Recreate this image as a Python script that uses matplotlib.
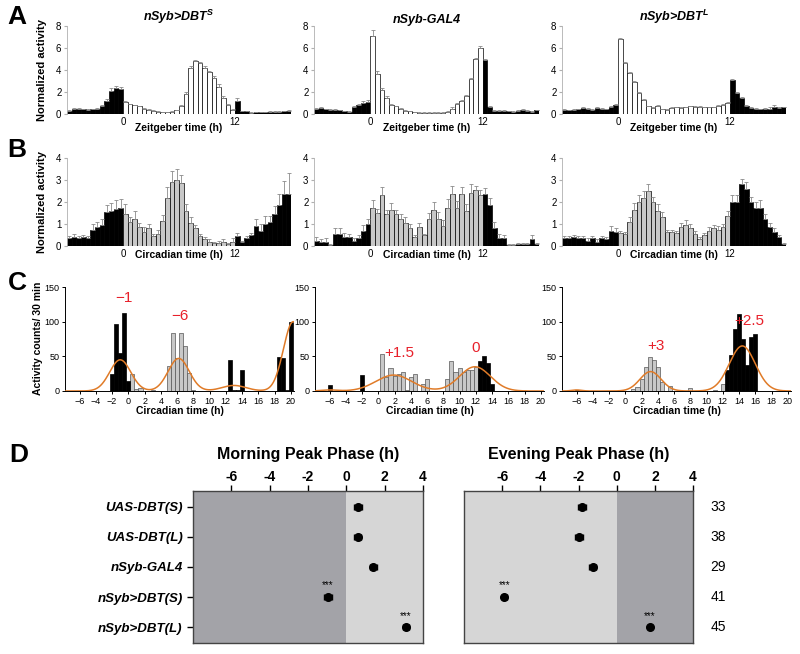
import numpy as np
import matplotlib.pyplot as plt

plt.rcParams['font.family'] = ['Liberation Sans', 'DejaVu Sans']
plt.rcParams['mathtext.fontset'] = 'custom'
plt.rcParams['mathtext.it'] = 'Liberation Sans:italic:bold'
plt.rcParams['mathtext.rm'] = 'Liberation Sans:bold'
plt.rcParams['axes.unicode_minus'] = False

W, H = 800, 654

# half-hour bins, start of each bin (h)
bins = np.arange(-6, 18, 0.5)

titles = ['nSyb>DBT$^S$', 'nSyb-GAL4', 'nSyb>DBT$^L$']

# ---- panel A: LD activity (normalized) ----
ld_S = [0.3, 0.45, 0.5, 0.45, 0.4, 0.45, 0.5, 0.7, 1.2, 2.05, 2.4, 2.3,
        1.1, 0.9, 0.8, 0.7, 0.5, 0.4, 0.3, 0.2, 0.15, 0.15, 0.2, 0.35,
        0.7, 1.8, 4.2, 4.8, 4.6, 4.2, 3.8, 3.3, 2.5, 1.5, 0.8, 0.4,
        1.2, 0.25, 0.25, 0.1, 0.15, 0.15, 0.15, 0.2, 0.2, 0.2, 0.25, 0.3]
ld_S_err = [0.05, 0.1, 0.05, 0.05, 0.05, 0.05, 0.05, 0.1, 0.15, 0.3, 0.15, 0.2,
            0.1, 0.05, 0.05, 0.05, 0.05, 0.05, 0.05, 0.05, 0.05, 0.05, 0.05, 0.05,
            0.1, 0.2, 0.15, 0.15, 0.1, 0.15, 0.15, 0.2, 0.2, 0.15, 0.1, 0.05,
            0.3, 0.05, 0.05, 0.05, 0.05, 0.05, 0.05, 0.05, 0.05, 0.05, 0.05, 0.05]
ld_G = [0.5, 0.55, 0.45, 0.4, 0.4, 0.35, 0.25, 0.2, 0.6, 0.85, 1.0, 1.1,
        7.1, 3.6, 2.15, 1.5, 0.8, 0.7, 0.5, 0.3, 0.25, 0.15, 0.1, 0.1,
        0.1, 0.1, 0.1, 0.1, 0.2, 0.5, 0.9, 1.15, 1.6, 3.2, 5.0, 6.0,
        4.9, 0.6, 0.3, 0.3, 0.3, 0.25, 0.2, 0.3, 0.4, 0.3, 0.2, 0.35]
ld_G_err = [0.05, 0.05, 0.05, 0.05, 0.05, 0.05, 0.05, 0.05, 0.1, 0.1, 0.15, 0.15,
            0.5, 0.35, 0.2, 0.1, 0.1, 0.05, 0.05, 0.05, 0.05, 0.05, 0.05, 0.05,
            0.05, 0.05, 0.05, 0.05, 0.05, 0.1, 0.1, 0.1, 0.1, 0.1, 0.1, 0.15,
            0.1, 0.1, 0.05, 0.05, 0.05, 0.05, 0.05, 0.05, 0.1, 0.05, 0.05, 0.05]
ld_L = [0.4, 0.35, 0.4, 0.45, 0.55, 0.5, 0.4, 0.55, 0.5, 0.45, 0.65, 0.8,
        6.8, 4.6, 3.7, 2.9, 1.9, 1.3, 0.7, 0.55, 0.7, 0.45, 0.4, 0.55,
        0.6, 0.55, 0.6, 0.7, 0.65, 0.65, 0.6, 0.6, 0.6, 0.7, 0.8, 1.0,
        3.1, 1.9, 1.45, 0.75, 0.55, 0.5, 0.45, 0.5, 0.5, 0.6, 0.55, 0.6]
ld_L_err = [0.1, 0.05, 0.05, 0.05, 0.1, 0.05, 0.05, 0.05, 0.05, 0.05, 0.1, 0.1,
            0.15, 0.15, 0.1, 0.1, 0.1, 0.1, 0.05, 0.05, 0.1, 0.05, 0.05, 0.05,
            0.05, 0.05, 0.05, 0.05, 0.05, 0.05, 0.05, 0.05, 0.05, 0.1, 0.1, 0.1,
            0.1, 0.1, 0.1, 0.05, 0.05, 0.05, 0.05, 0.05, 0.1, 0.2, 0.05, 0.05]

# ---- panel B: DD activity (normalized) ----
dd_S = [0.35, 0.4, 0.35, 0.4, 0.35, 0.75, 0.85, 0.95, 1.55, 1.6, 1.7, 1.75,
        1.45, 1.1, 1.25, 0.85, 0.65, 0.8, 0.45, 0.55, 1.15, 2.2, 2.9, 3.0,
        2.85, 1.6, 1.05, 0.8, 0.45, 0.3, 0.2, 0.15, 0.15, 0.2, 0.1, 0.2,
        0.45, 0.2, 0.35, 0.5, 0.9, 0.7, 1.0, 1.1, 1.45, 1.85, 2.35, 2.35]
dd_S_err = [0.1, 0.15, 0.1, 0.1, 0.1, 0.25, 0.25, 0.3, 0.3, 0.35, 0.4, 0.4,
            0.45, 0.2, 0.35, 0.2, 0.2, 0.2, 0.1, 0.2, 0.25, 0.5, 0.5, 0.5,
            0.4, 0.3, 0.25, 0.15, 0.1, 0.1, 0.1, 0.05, 0.1, 0.1, 0.05, 0.15,
            0.15, 0.05, 0.1, 0.1, 0.35, 0.3, 0.35, 0.25, 0.35, 0.5, 0.6, 0.95]
dd_G = [0.25, 0.2, 0.2, 0.05, 0.55, 0.55, 0.4, 0.4, 0.25, 0.35, 0.7, 1.0,
        1.75, 1.5, 2.3, 1.45, 1.65, 1.45, 1.25, 1.05, 0.8, 0.4, 0.85, 0.5,
        1.25, 1.65, 1.25, 0.9, 1.75, 2.35, 1.75, 2.35, 1.6, 2.4, 2.55, 2.3,
        2.35, 1.85, 0.8, 0.35, 0.35, 0.05, 0.05, 0.1, 0.1, 0.1, 0.3, 0.1]
dd_G_err = [0.15, 0.1, 0.15, 0.02, 0.25, 0.25, 0.2, 0.15, 0.1, 0.15, 0.25, 0.25,
            0.35, 0.2, 0.4, 0.2, 0.3, 0.2, 0.2, 0.25, 0.2, 0.1, 0.2, 0.05,
            0.25, 0.35, 0.3, 0.3, 0.4, 0.4, 0.3, 0.35, 0.3, 0.4, 0.2, 0.25,
            0.3, 0.35, 0.3, 0.2, 0.15, 0.03, 0.03, 0.05, 0.05, 0.05, 0.2, 0.05]
dd_L = [0.35, 0.35, 0.4, 0.35, 0.35, 0.25, 0.35, 0.2, 0.35, 0.3, 0.7, 0.65,
        0.6, 0.55, 1.1, 1.65, 2.0, 2.2, 2.5, 2.0, 1.6, 1.3, 0.65, 0.65,
        0.6, 0.85, 0.95, 0.8, 0.55, 0.3, 0.5, 0.7, 0.8, 0.75, 0.85, 1.35,
        2.0, 2.0, 2.8, 2.6, 2.0, 1.75, 1.75, 1.25, 0.85, 0.65, 0.4, 0.1]
dd_L_err = [0.1, 0.1, 0.1, 0.1, 0.1, 0.1, 0.1, 0.1, 0.1, 0.1, 0.2, 0.15,
            0.1, 0.1, 0.2, 0.3, 0.3, 0.3, 0.3, 0.25, 0.3, 0.25, 0.1, 0.1,
            0.1, 0.2, 0.25, 0.2, 0.15, 0.1, 0.1, 0.15, 0.15, 0.15, 0.15, 0.25,
            0.3, 0.3, 0.25, 0.3, 0.25, 0.25, 0.35, 0.2, 0.2, 0.15, 0.1, 0.05]

# ---- panel C: single-fly histograms (counts / 30 min) ----
c_S_gray_t = [0.5, 1, 1.5, 3, 5, 5.5, 6, 6.5, 7, 7.5, 8]
c_S_gray_n = [25, 3, 5, 1, 36, 84, 47, 84, 65, 26, 1]
c_S_black_t = [-2, -1.5, -1, -0.5, 0, 12.5, 13, 13.5, 14, 18.5, 19, 19.5, 20]
c_S_black_n = [25, 97, 55, 113, 15, 45, 2, 2, 31, 49, 47, 2, 100]
c_G_gray_t = [0.5, 1, 1.5, 2, 2.5, 3, 3.5, 4, 4.5, 5.5, 6,
              8.5, 9, 9.5, 10, 10.5, 11, 11.5, 12]
c_G_gray_n = [53, 20, 33, 22, 24, 27, 2, 20, 24, 10, 17,
              18, 43, 27, 33, 28, 31, 30, 35]
c_G_black_t = [-6, -2, 12.5, 13, 13.5, 14]
c_G_black_n = [8, 23, 43, 51, 40, 10]
c_L_gray_t = [1, 1.5, 2, 2.5, 3, 3.5, 4, 4.5, 5.5, 8, 9.5, 11, 12]
c_L_gray_n = [3, 6, 17, 35, 49, 45, 35, 13, 7, 4, 2, 2, 10]
c_L_black_t = [-6, 12.5, 13, 13.5, 14, 14.5, 15, 15.5, 16]
c_L_black_n = [2, 30, 52, 90, 111, 75, 37, 78, 82]

# gaussian fit parameters (amplitude, centre, sigma)
fit_S = [(45, -1.0, 1.3), (47, 6.2, 1.3), (8, 13.0, 1.5), (100, 20.3, 1.2)]
fit_G = [(1.5, -6.0, 1.0), (23, 1.9, 2.2), (35, 11.9, 1.9)]
fit_L = [(1.5, -6.0, 0.6), (28, 3.1, 1.3), (65, 14.4, 1.6)]

# phase labels (text, t, count)
lab_S = [('\u22121', -0.5, 124), ('\u22126', 6.4, 98)]
lab_G = [('+1.5', 2.6, 44), ('0', 12.0, 52)]
lab_L = [('+3', 3.8, 55), ('+2.5', 15.3, 91)]

# ---- panel D: peak phases ----
strains = ['UAS-DBT(S)', 'UAS-DBT(L)', 'nSyb-GAL4', 'nSyb>DBT(S)', 'nSyb>DBT(L)']
morning = [0.62, 0.6, 1.4, -0.95, 3.12]
morning_err = [0.22, 0.18, 0.18, 0.2, 0.15]
evening = [-1.83, -1.97, -1.25, -5.88, 1.75]
evening_err = [0.2, 0.2, 0.18, 0.12, 0.12]
n_flies = [33, 38, 29, 41, 45]
signif = [False, False, False, True, True]

fig = plt.figure(figsize=(W / 100, H / 100), dpi=100)


def px_axes(x0, y0, x1, y1):
    return fig.add_axes([x0 / W, 1 - y1 / H, (x1 - x0) / W, (y1 - y0) / H])


def activity_panel(ax, vals, errs, light, ymax, step):
    colors = [light if 0 <= t < 12 else 'black' for t in bins]
    ax.bar(bins, vals, width=0.5, align='edge', color=colors, edgecolor='black',
           linewidth=0.5, yerr=[np.zeros(len(errs)), errs],
           error_kw=dict(ecolor='#8a8a8a', elinewidth=0.6, capsize=1.2, capthick=0.6))
    ax.set_xlim(-6, 18)
    ax.set_ylim(0, ymax)
    ax.set_yticks(np.arange(0, ymax + 0.1, step))
    ax.set_xticks([0, 12])
    for s in ['top', 'right', 'bottom']:
        ax.spines[s].set_visible(False)
    ax.spines['left'].set_color('#b0b0b0')
    ax.spines['left'].set_linewidth(0.6)
    ax.tick_params(axis='y', length=2, color='#b0b0b0', labelsize=7, pad=2)
    ax.tick_params(axis='x', length=0, labelsize=7, pad=2)


x_spans = [(67, 291), (314, 539), (562, 786)]
ld_sets = [(ld_S, ld_S_err), (ld_G, ld_G_err), (ld_L, ld_L_err)]
dd_sets = [(dd_S, dd_S_err), (dd_G, dd_G_err), (dd_L, dd_L_err)]

for i, (x0, x1) in enumerate(x_spans):
    axa = px_axes(x0, 26, x1, 114)
    activity_panel(axa, ld_sets[i][0], ld_sets[i][1], 'white', 8, 2)
    axa.set_title(titles[i], fontsize=9, fontweight='bold', style='italic', pad=1)
    fig.text((x0 + x1) / 2 / W, 1 - 128 / H, 'Zeitgeber time (h)', ha='center',
             va='center', fontsize=7.5, fontweight='bold')

    axb = px_axes(x0, 158, x1, 246)
    activity_panel(axb, dd_sets[i][0], dd_sets[i][1], '#c8c8c8', 4, 1)
    fig.text((x0 + x1) / 2 / W, 1 - 255 / H, 'Circadian time (h)', ha='center',
             va='center', fontsize=7.5, fontweight='bold')

fig.text(42 / W, 1 - 70 / H, 'Normalized activity', rotation=90, ha='center',
         va='center', fontsize=8, fontweight='bold')
fig.text(42 / W, 1 - 202 / H, 'Normalized activity', rotation=90, ha='center',
         va='center', fontsize=8, fontweight='bold')

# panel C
c_sets = [(c_S_gray_t, c_S_gray_n, c_S_black_t, c_S_black_n, fit_S, lab_S),
          (c_G_gray_t, c_G_gray_n, c_G_black_t, c_G_black_n, fit_G, lab_G),
          (c_L_gray_t, c_L_gray_n, c_L_black_t, c_L_black_n, fit_L, lab_L)]
c_spans = [(65, 294), (315, 544), (562, 791)]
tt = np.linspace(-7.8, 20.4, 400)
for (x0, x1), (gt, gn, bt, bn, fit, labs) in zip(c_spans, c_sets):
    ax = px_axes(x0, 287, x1, 391)
    ax.bar(gt, gn, width=0.5, color='#c8c8c8', edgecolor='#555555', linewidth=0.5)
    ax.bar(bt, bn, width=0.5, color='black', edgecolor='black', linewidth=0.5)
    curve = np.zeros_like(tt)
    for a, mu, sd in fit:
        curve += a * np.exp(-(tt - mu) ** 2 / (2 * sd ** 2))
    ax.plot(tt, curve, color='#e07b28', lw=1.1, zorder=3)
    for txt, t, y in labs:
        ax.text(t, y, txt, color='#e8202a', fontsize=11, ha='center', va='bottom')
    ax.set_xlim(-7.8, 20.4)
    ax.set_ylim(0, 150)
    ax.set_xticks(np.arange(-6, 21, 2))
    ax.set_xticklabels([str(v).replace('-', '\u2212') for v in range(-6, 21, 2)])
    ax.set_yticks([0, 50, 100, 150])
    for s in ['top', 'right']:
        ax.spines[s].set_visible(False)
    for s in ['left', 'bottom']:
        ax.spines[s].set_linewidth(0.7)
    ax.tick_params(length=2.5, width=0.7, labelsize=6.5, pad=1.5)
    fig.text((x0 + x1) / 2 / W, 1 - 411 / H, 'Circadian time (h)', ha='center',
             va='center', fontsize=7.5, fontweight='bold')

fig.text(38 / W, 1 - 338 / H, 'Activity counts/ 30 min', rotation=90, ha='center',
         va='center', fontsize=7.5, fontweight='bold')

# panel D
d_sets = [(193, 423, morning, morning_err, 'Morning Peak Phase (h)', '#a3a3a8', '#d6d6d6'),
          (464, 693, evening, evening_err, 'Evening Peak Phase (h)', '#d6d6d6', '#a3a3a8')]
rows = np.arange(len(strains))
for k, (x0, x1, vals, errs, title, c_neg, c_pos) in enumerate(d_sets):
    ax = px_axes(x0, 491, x1, 643)
    ax.axvspan(-8, 0, color=c_neg, lw=0)
    ax.axvspan(0, 4, color=c_pos, lw=0)
    ax.errorbar(vals, rows, xerr=errs, fmt='o', color='black', ms=5.5,
                elinewidth=1, capsize=2, capthick=1)
    for v, r, s in zip(vals, rows, signif):
        if s:
            ax.text(v, r - 0.22, '***', ha='center', va='bottom', fontsize=7)
    ax.set_xlim(-8, 4)
    ax.set_ylim(len(strains) - 0.48, -0.52)
    ax.xaxis.tick_top()
    ax.set_xticks(np.arange(-6, 5, 2))
    ax.tick_params(axis='x', length=4, width=1, labelsize=10, pad=1)
    for lab in ax.get_xticklabels():
        lab.set_fontweight('bold')
    ax.set_yticks(rows)
    if k == 0:
        ax.set_yticklabels(strains, fontsize=9.5, fontweight='bold', style='italic')
        ax.tick_params(axis='y', length=4, width=1)
    else:
        ax.set_yticks([])
        for r, n in zip(rows, n_flies):
            ax.text(1.11, r, str(n), transform=ax.get_yaxis_transform(),
                    ha='center', va='center', fontsize=10)
    for s in ax.spines.values():
        s.set_color('#444444')
        s.set_linewidth(1.0)
    fig.text((x0 + x1) / 2 / W, 1 - 455 / H, title, ha='center', va='center',
             fontsize=11.5, fontweight='bold')

for letter, x, y in [('A', 17, 17), ('B', 17, 150), ('C', 17, 283), ('D', 19, 455)]:
    fig.text(x / W, 1 - y / H, letter, ha='center', va='center', fontsize=19,
             fontweight='bold')

fig.savefig('out.png', dpi=100)
